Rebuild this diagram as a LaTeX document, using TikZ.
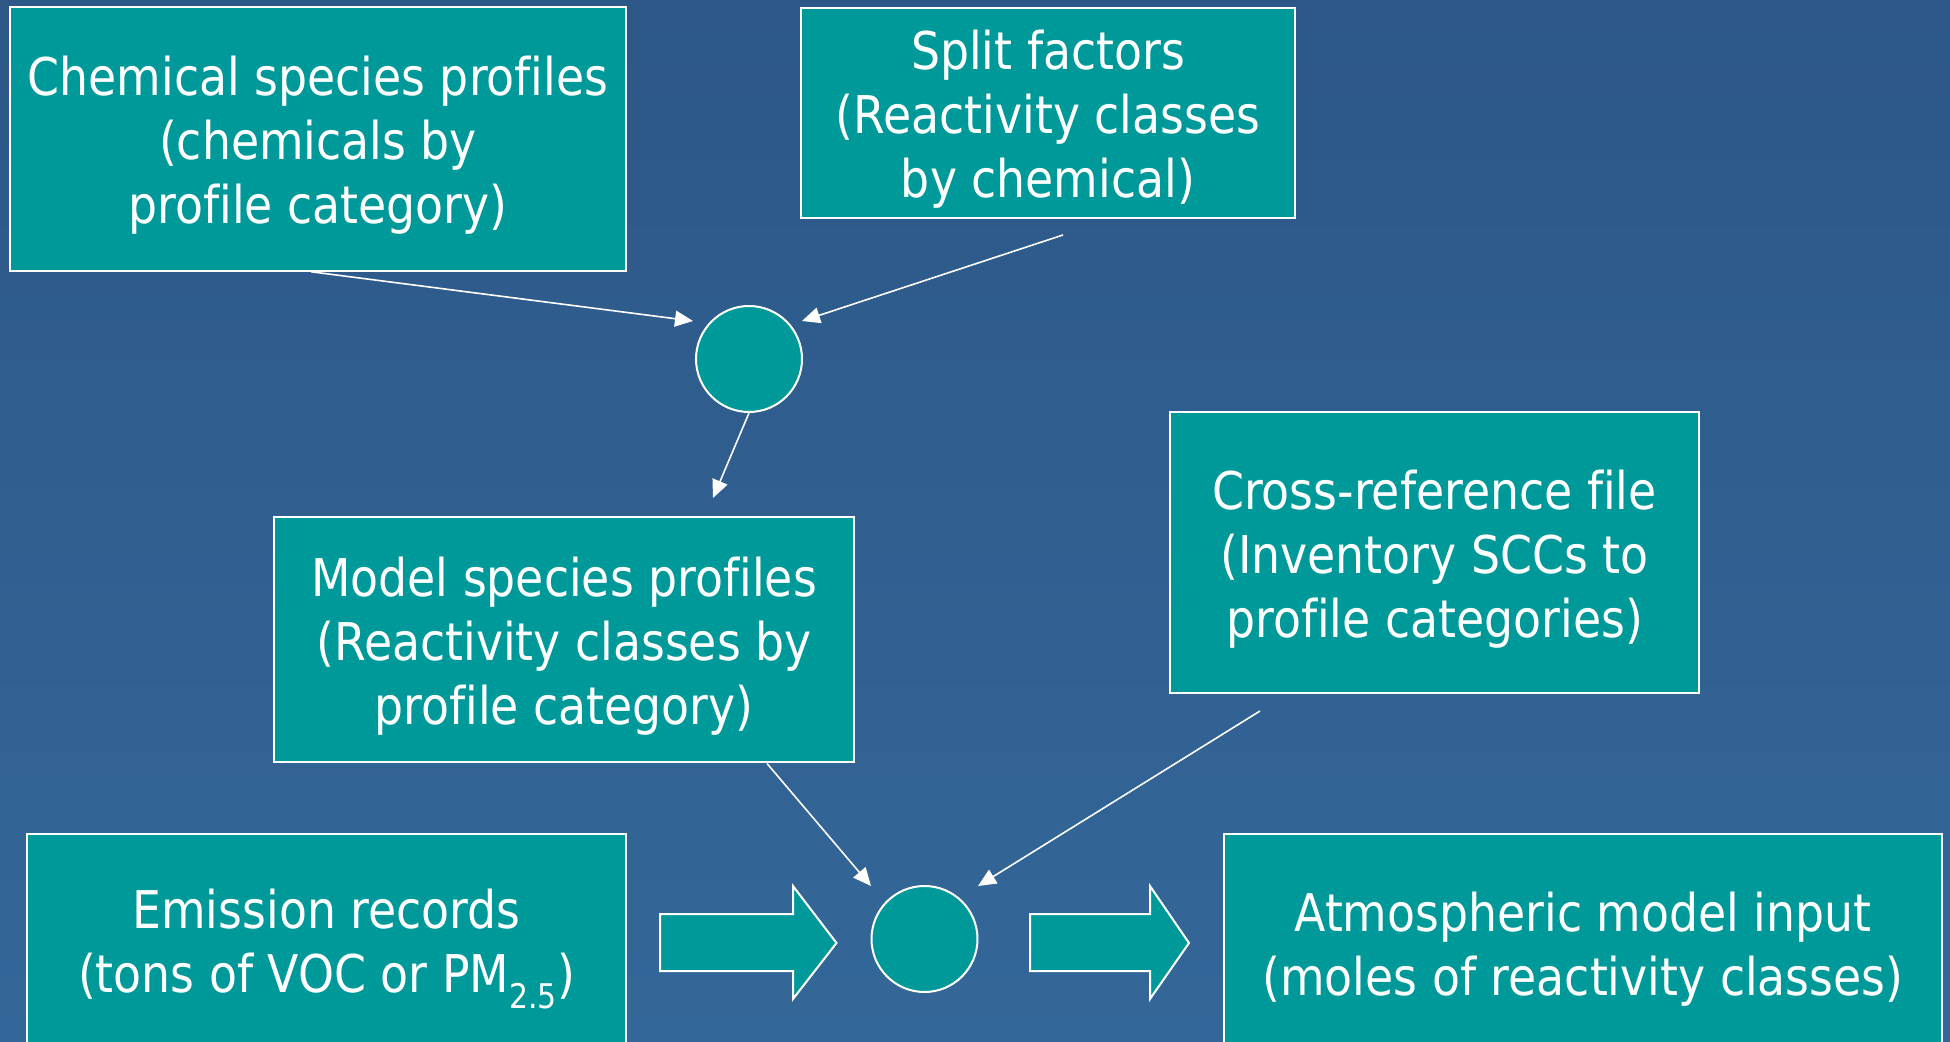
\documentclass[tikz,border=0pt]{standalone}
\usepackage{fontspec}
\setmainfont{DejaVu Sans}[FakeStretch=0.88, Ligatures=CommonOff]
\usetikzlibrary{arrows.meta}
\definecolor{bgtop}{RGB}{44,87,135}
\definecolor{bgbot}{RGB}{52,103,153}
\definecolor{teal}{RGB}{0,153,153}
\newcommand{\topstrutx}{\rule{0pt}{26pt}}
\tikzset{
  box/.style={draw=white, line width=1pt, fill=teal, text=white, align=center,
    inner sep=0pt, font=\fontsize{26}{32}\selectfont},
  hub/.style={circle, draw=white, line width=1pt, fill=teal, minimum size=53pt, inner sep=0pt},
  conn/.style={draw=white, line width=0.8pt, -{Triangle[length=9pt,width=8pt]}},
  blockarrow/.style={draw=white, line width=1pt, fill=teal, line join=miter}
}
\newcommand{\subtwofive}{\raisebox{-0.3em}{\fontsize{17}{17}\selectfont 2.5}}
\begin{document}
\begin{tikzpicture}[x=0.5pt,y=-0.5pt]
\useasboundingbox (0,0) rectangle (1950,1042);
\shade[top color=bgtop, bottom color=bgbot] (0,0) rectangle (1950,1042);
\clip (0,0) rectangle (1950,1042);

\node[box, minimum width=308pt, minimum height=131.75pt] (chem) at (318,139)
  {\topstrutx Chemical species profiles\\(chemicals by\\profile category)};
\node[box, minimum width=247pt, minimum height=105pt] (split) at (1048,113)
  {\topstrutx Split factors\\(Reactivity classes\\by chemical)};
\node[hub] (c1) at (749,359) {};
\node[box, minimum width=290pt, minimum height=122.5pt] (model) at (564,640)
  {\topstrutx Model species profiles\\(Reactivity classes by\\profile category)};
\node[box, minimum width=264.5pt, minimum height=140.5pt] (xref) at (1434.5,552.5)
  {\topstrutx Cross-reference file\\(Inventory SCCs to\\profile categories)};
\node[box, minimum width=299.5pt, minimum height=109pt, anchor=north] (emis) at (326.5,833)
  {\topstrutx Emission records\\(tons of VOC or PM\subtwofive)};
\node[box, minimum width=359pt, minimum height=109pt, anchor=north] (atm) at (1583,833)
  {\topstrutx Atmospheric model input\\(moles of reactivity classes)};
\node[hub] (c2) at (924.5,939) {};

\coordinate (t1) at (693,321);
\coordinate (t2) at (802,321);
\coordinate (t3) at (713,498);
\coordinate (t4) at (871,886);
\coordinate (t5) at (978,886);
\coordinate (s2) at (1063,235);
\coordinate (s5) at (1260,711);

\draw[conn] ([xshift=-3.5pt]chem.south) -- (t1);
\draw[conn] (s2) -- (t2);
\draw[conn] (c1.south) -- (t3);
\draw[conn] (model.south -| 767,0) -- (t4);
\draw[conn] (s5) -- (t5);

\draw[blockarrow] (660,914) -- (793,914) -- (793,886) -- (836.5,943) -- (793,999) -- (793,971) -- (660,971) -- cycle;
\draw[blockarrow] (1030,914) -- (1150,914) -- (1150,886) -- (1189,943) -- (1150,999) -- (1150,971) -- (1030,971) -- cycle;
\end{tikzpicture}
\end{document}
